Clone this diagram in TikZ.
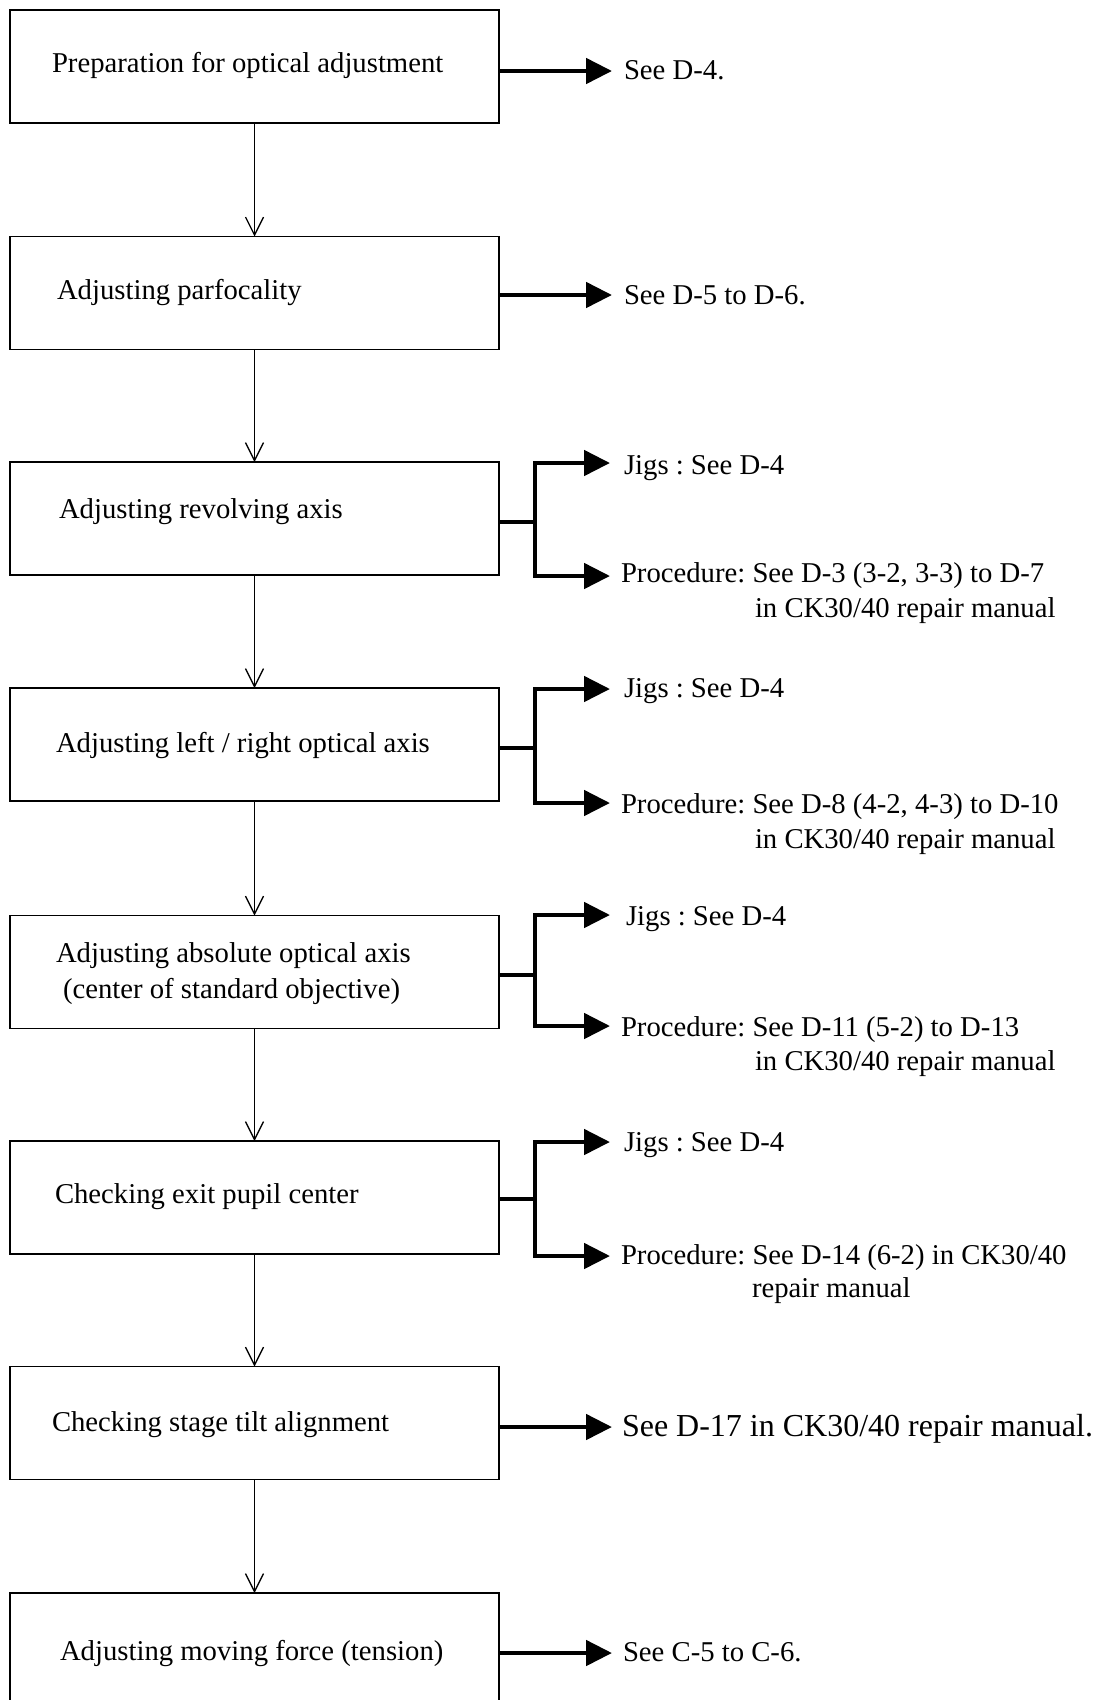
\documentclass[tikz,border=0pt]{standalone}
\usepackage{fontspec}
\setmainfont{Liberation Serif}
\usetikzlibrary{arrows.meta}
\frenchspacing
\begin{document}
\begin{tikzpicture}[x=1pt,y=-1pt,
  box/.style={draw, line width=1.3pt, minimum width=489pt, minimum height=113pt, inner sep=0pt, outer sep=0pt},
  txt/.style={inner sep=0pt, outer sep=0pt, anchor=base west, font=\fontsize{28.7}{34}\selectfont\frenchspacing},
  bigtxt/.style={txt, font=\fontsize{32}{38}\selectfont\frenchspacing},
  flow/.style={line width=1.3pt, -{Straight Barb[length=18pt,width=18pt,line width=1.3pt]}},
  refarrow/.style={line width=4.8pt, -{Triangle[length=26pt,width=25pt]}},
  stub/.style={line width=4.8pt}]
\useasboundingbox (0,0) rectangle (1093,1700);

% boxes
\node[box] (b1) at (254.5,66.5) {};
\node[box] (b2) at (254.5,293) {};
\node[box] (b3) at (254.5,518.5) {};
\node[box] (b4) at (254.5,744.5) {};
\node[box] (b5) at (254.5,972) {};
\node[box] (b6) at (254.5,1197.5) {};
\node[box] (b7) at (254.5,1423) {};
\node[box] (b8) at (254.5,1649.5) {};

% box texts
\node[txt] (t1) at (52,72) {Preparation for optical adjustment};
\node[txt] (t2) at (57,299) {Adjusting parfocality};
\node[txt] (t3) at (59,518) {Adjusting revolving axis};
\node[txt] (t4) at (56,752) {Adjusting left / right optical axis};
\node[txt] (t5a) at (56,962) {Adjusting absolute optical axis};
\node[txt] (t5b) at (63,998) {(center of standard objective)};
\node[txt] (t6) at (55,1203) {Checking exit pupil center};
\node[txt] (t7) at (52,1431) {Checking stage tilt alignment};
\node[txt] (t8) at (60,1660) {Adjusting moving force (tension)};

% flow arrows
\draw[flow] (b1.south) -- (b2.north);
\draw[flow] (b2.south) -- (b3.north);
\draw[flow] (b3.south) -- (b4.north);
\draw[flow] (b4.south) -- (b5.north);
\draw[flow] (b5.south) -- (b6.north);
\draw[flow] (b6.south) -- (b7.north);
\draw[flow] (b7.south) -- (b8.north);

% single reference arrows
\coordinate (a1) at (612,71);
\coordinate (a2) at (612,295);
\coordinate (a7) at (612,1427);
\coordinate (a8) at (612,1653);
\draw[refarrow] (b1.east |- a1) -- (a1);
\draw[refarrow] (b2.east |- a2) -- (a2);
\draw[refarrow] (b7.east |- a7) -- (a7);
\draw[refarrow] (b8.east |- a8) -- (a8);
\node[txt] (r1) at (624,79) {See D-4.};
\node[txt] (r2) at (624,304) {See D-5 to D-6.};
\node[bigtxt] (r7) at (622,1436) {See D-17 in CK30/40 repair manual.};
\node[txt] (r8) at (623,1661) {See C-5 to C-6.};

% branch arrows
\coordinate (s3) at (535,522); \coordinate (u3) at (610,463); \coordinate (d3) at (610,576);
\coordinate (s4) at (535,748); \coordinate (u4) at (610,689); \coordinate (d4) at (610,803);
\coordinate (s5) at (535,975); \coordinate (u5) at (610,915); \coordinate (d5) at (610,1026);
\coordinate (s6) at (535,1199); \coordinate (u6) at (610,1142); \coordinate (d6) at (610,1256);
\foreach \k in {3,4,5,6}{
  \draw[stub] (b\k.east |- s\k) -- (s\k);
  \draw[refarrow] (s\k) |- (u\k);
  \draw[refarrow] (s\k) |- (d\k);
}

\node[txt] (j3) at (624,474) {Jigs : See D-4};
\node[txt] (p3) at (621,582) {Procedure: See D-3 (3-2, 3-3) to D-7};
\node[txt] (q3) at (755,617) {in CK30/40 repair manual};

\node[txt] (j4) at (624,697) {Jigs : See D-4};
\node[txt] (p4) at (621,813) {Procedure: See D-8 (4-2, 4-3) to D-10};
\node[txt] (q4) at (755,848) {in CK30/40 repair manual};

\node[txt] (j5) at (626,925) {Jigs : See D-4};
\node[txt] (p5) at (621,1036) {Procedure: See D-11 (5-2) to D-13};
\node[txt] (q5) at (755,1070) {in CK30/40 repair manual};

\node[txt] (j6) at (624,1151) {Jigs : See D-4};
\node[txt] (p6) at (621,1264) {Procedure: See D-14 (6-2) in CK30/40};
\node[txt] (q6) at (752,1297) {repair manual};
\end{tikzpicture}
\end{document}
